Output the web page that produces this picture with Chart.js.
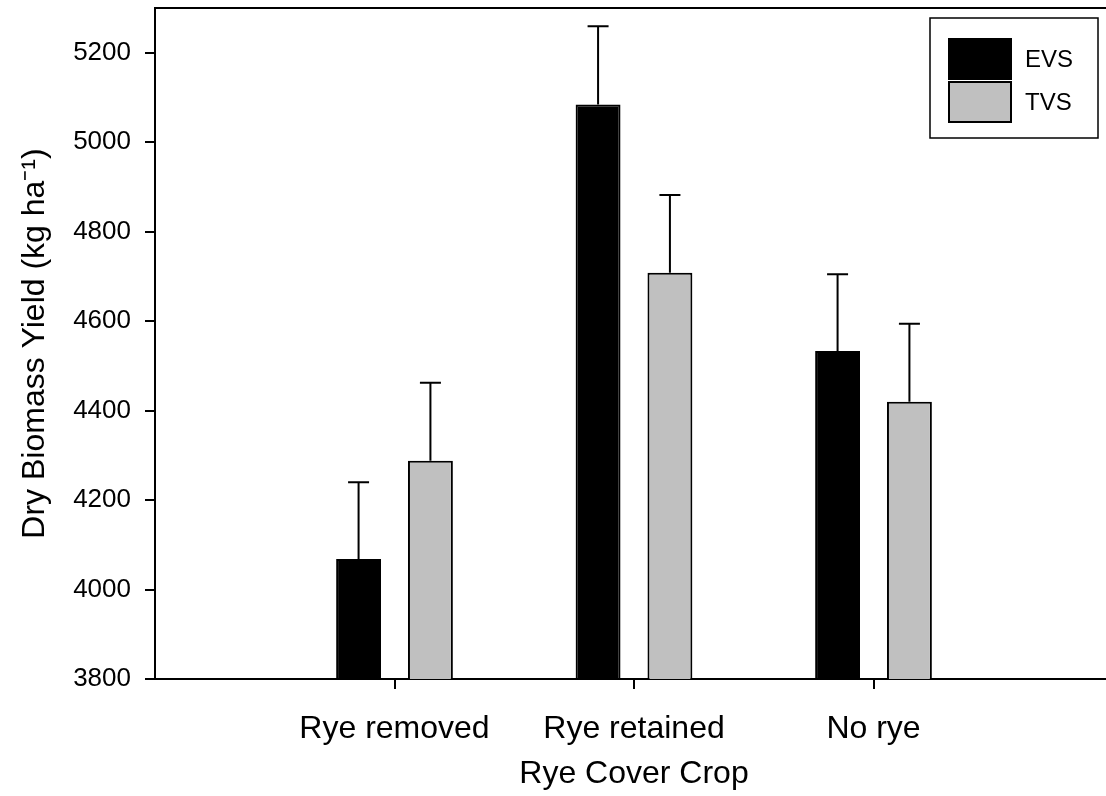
<!DOCTYPE html>
<html>
<head>
<meta charset="utf-8">
<script src="https://cdn.jsdelivr.net/npm/chart.js@4"></script>
<style>
  html, body { margin: 0; padding: 0; background: #fff; overflow: hidden; }
  #wrap { width: 1114px; height: 796px; }
</style>
</head>
<body>
<div id="wrap"><canvas id="chartCanvas"></canvas></div>
<script>
// Data
const categories = ['Rye removed', 'Rye retained', 'No rye'];
const evsYield = [4068, 5084, 4533];
const evsSE = [172, 175, 172];
const tvsYield = [4288, 4708, 4420];
const tvsSE = [174, 174, 174];
const yTicks = [3800, 4000, 4200, 4400, 4600, 4800, 5000, 5200];

const FONT = '"Liberation Sans", Arial, Helvetica, sans-serif';

// Error bars (upper only) drawn with the chart's own scales
const errorBars = {
    id: 'errorBars',
    afterDatasetsDraw(chart) {
        const ctx = chart.ctx;
        const yScale = chart.scales.y;
        ctx.save();
        ctx.strokeStyle = '#000';
        ctx.lineWidth = 2;
        chart.data.datasets.forEach((ds, di) => {
            const meta = chart.getDatasetMeta(di);
            meta.data.forEach((bar, i) => {
                const top = yScale.getPixelForValue(ds.data[i].y + ds.se[i]);
                ctx.beginPath();
                ctx.moveTo(bar.x, bar.y);
                ctx.lineTo(bar.x, top);
                ctx.moveTo(bar.x - 10.5, top);
                ctx.lineTo(bar.x + 10.5, top);
                ctx.stroke();
            });
        });
        ctx.restore();
    }
};

// Top frame line + boxed legend
const frameAndLegend = {
    id: 'frameAndLegend',
    afterDraw(chart) {
        const ctx = chart.ctx;
        const area = chart.chartArea;
        ctx.save();
        ctx.strokeStyle = '#000';
        ctx.lineWidth = 2;
        ctx.beginPath();
        ctx.moveTo(area.left, area.top);
        ctx.lineTo(area.right, area.top);
        ctx.stroke();

        // legend box
        ctx.lineWidth = 1.5;
        ctx.strokeRect(930, 18, 168, 120);
        chart.data.datasets.forEach((ds, i) => {
            const y = 39 + i * 43;
            ctx.fillStyle = ds.backgroundColor;
            ctx.fillRect(949, y, 62, 40);
            ctx.strokeStyle = '#000';
            ctx.lineWidth = 2;
            ctx.strokeRect(949, y, 62, 40);
            ctx.fillStyle = '#000';
            ctx.font = '24px ' + FONT;
            ctx.textBaseline = 'middle';
            ctx.textAlign = 'left';
            ctx.fillText(ds.label, 1025, y + 21);
        });
        ctx.restore();
    }
};

const config = {
    type: 'bar',
    data: {
        datasets: [{
            label: 'EVS',
            data: categories.map((c, i) => ({ x: i + 1, y: evsYield[i] })),
            se: evsSE,
            backgroundColor: '#000000',
            borderColor: '#000000',
            borderWidth: 2
        }, {
            label: 'TVS',
            data: categories.map((c, i) => ({ x: i + 1, y: tvsYield[i] })),
            se: tvsSE,
            backgroundColor: '#C0C0C0',
            borderColor: '#000000',
            borderWidth: 2
        }]
    },
    options: {
        responsive: true,
        maintainAspectRatio: false,
        animation: false,
        events: [],
        categoryPercentage: 0.6,
        barPercentage: 0.625,
        layout: { padding: { top: 8, left: 0, right: 1, bottom: 0 } },
        plugins: {
            legend: { display: false },
            tooltip: { enabled: false }
        },
        scales: {
            x: {
                type: 'linear',
                min: 0,
                max: 4,
                offset: false,
                afterBuildTicks: (scale) => {
                    scale.ticks = categories.map((c, i) => ({ value: i + 1 }));
                },
                afterFit: (scale) => {
                    scale.height = 117;
                    scale.paddingLeft = 0;
                    scale.paddingRight = 0;
                },
                ticks: {
                    autoSkip: false,
                    maxRotation: 0,
                    padding: 21,
                    color: '#000',
                    font: { family: FONT, size: 32 },
                    callback: (v) => categories[v - 1] || ''
                },
                grid: {
                    offset: false,
                    drawOnChartArea: false,
                    color: '#000',
                    lineWidth: 2,
                    tickLength: 10
                },
                border: { display: true, color: '#000', width: 2 },
                title: {
                    display: true,
                    text: 'Rye Cover Crop',
                    color: '#000',
                    font: { family: FONT, size: 32 },
                    padding: { top: 0, bottom: 3 }
                }
            },
            y: {
                min: 3800,
                max: 5300,
                afterBuildTicks: (scale) => {
                    scale.ticks = yTicks.map(v => ({ value: v }));
                },
                afterFit: (scale) => {
                    scale.width = 155;
                    scale.paddingTop = 0;
                    scale.paddingBottom = 0;
                },
                ticks: {
                    padding: 14,
                    color: '#000',
                    font: { family: FONT, size: 26 },
                    callback: (v) => String(v)
                },
                grid: {
                    drawOnChartArea: false,
                    color: '#000',
                    lineWidth: 2,
                    tickLength: 10
                },
                border: { display: true, color: '#000', width: 2 },
                title: {
                    display: true,
                    text: 'Dry Biomass Yield (kg ha\u207B\u00B9)',
                    color: '#000',
                    font: { family: FONT, size: 32 },
                    padding: { top: 16, bottom: 0 }
                }
            }
        }
    },
    plugins: [errorBars, frameAndLegend]
};

const ctx = document.getElementById('chartCanvas').getContext('2d');
const chart = new Chart(ctx, config);
</script>
</body>
</html>
